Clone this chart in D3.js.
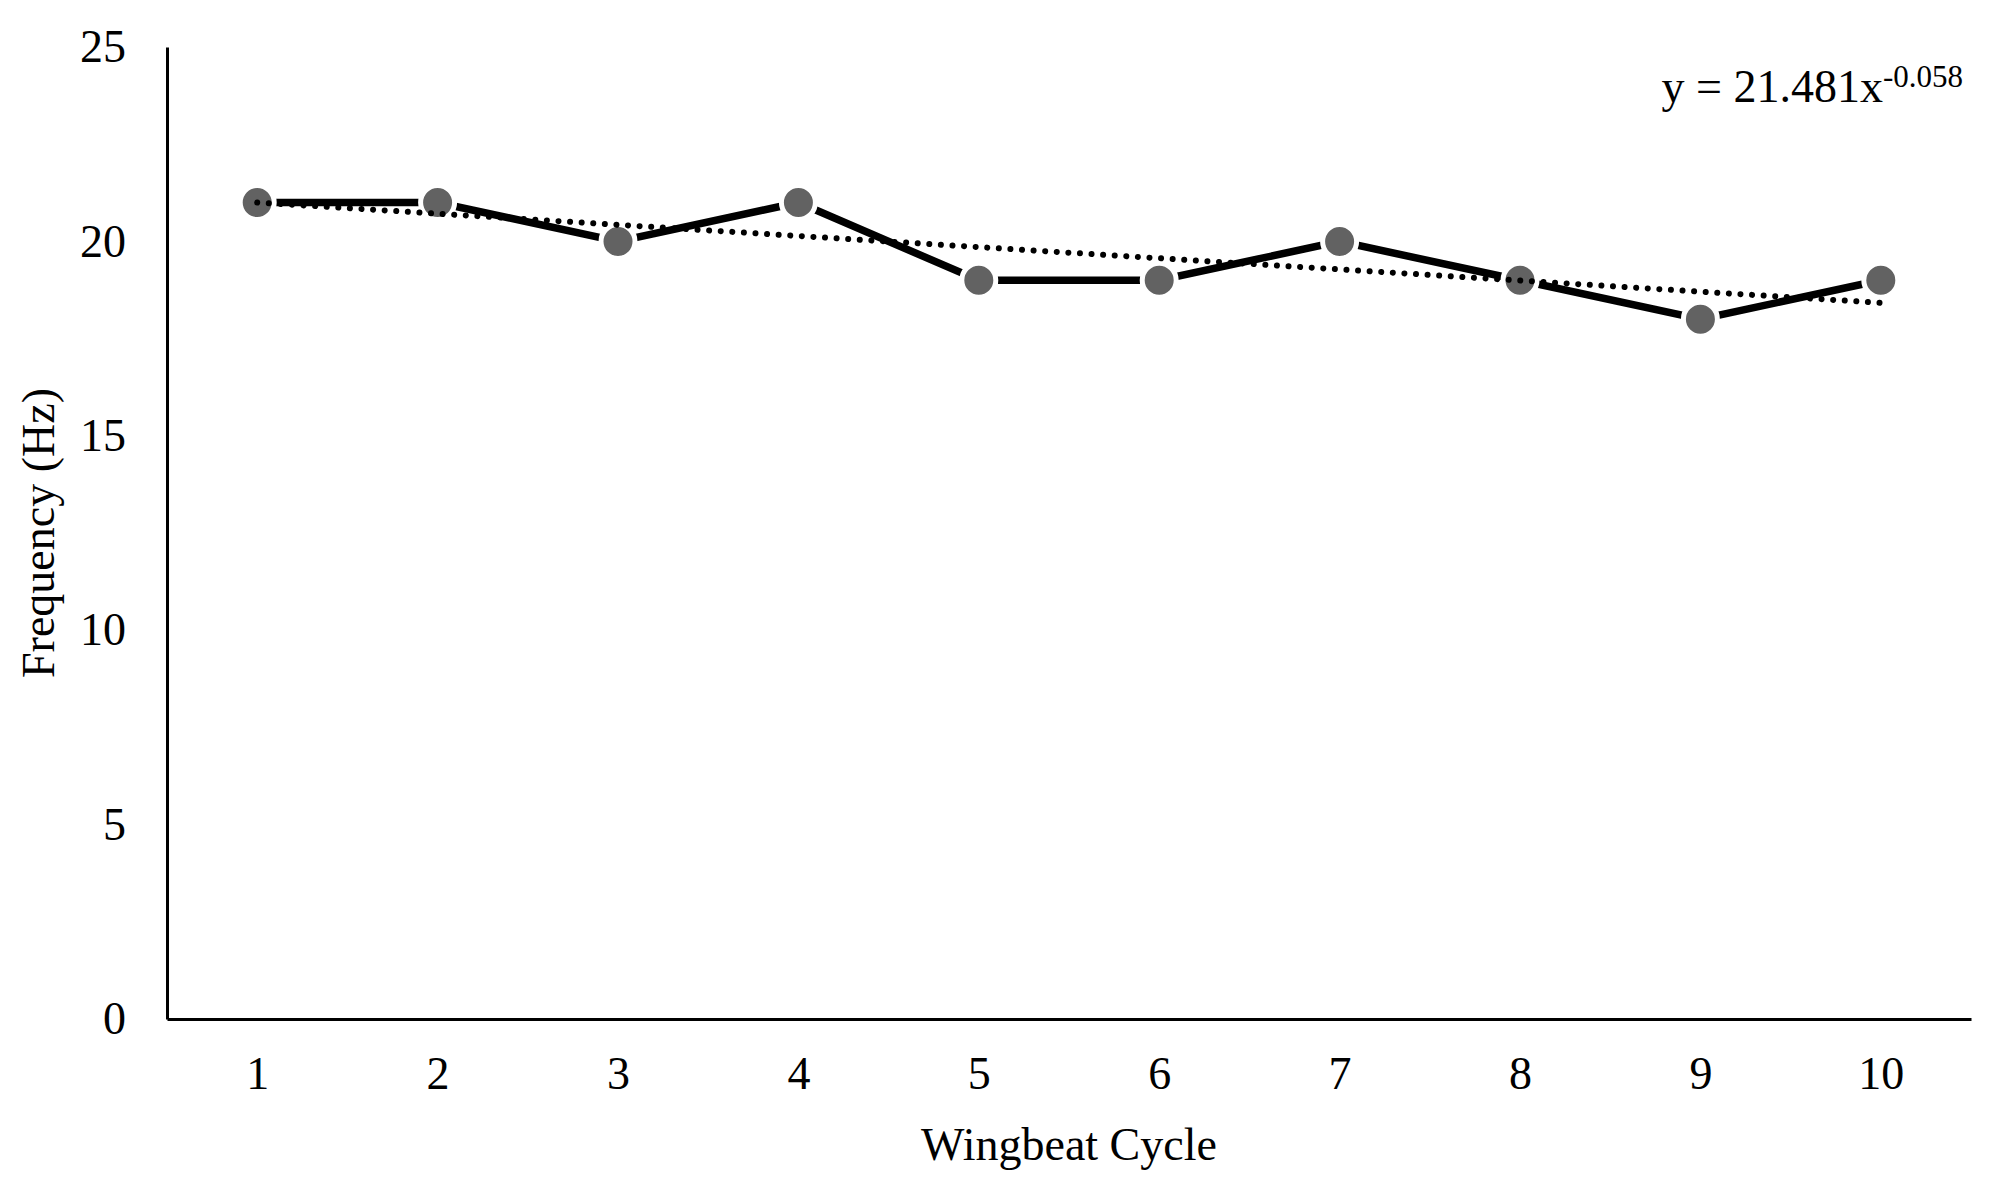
<!DOCTYPE html>
<html>
<head>
<meta charset="utf-8">
<script src="https://cdn.jsdelivr.net/npm/d3@7"></script>
<style>
  body { margin: 0; background: #fff; }
  text { font-family: "Liberation Serif", "Times New Roman", serif; fill: #000; }
</style>
</head>
<body>
<div id="chart"></div>
<script>
// Données
const cycles = [1, 2, 3, 4, 5, 6, 7, 8, 9, 10];
const frequency = [21, 21, 20, 21, 19, 19, 20, 19, 18, 19];
const yTicks = [0, 5, 10, 15, 20, 25];
// Courbe de tendance (extrémités)
const trendX = [1, 10];
const trendY = [21.0, 18.42];
const equationText = "y = 21.481x";
const equationExp = "-0.058";

const width = 1993;
const height = 1192;
const margin = { top: 47, right: 22, bottom: 173, left: 167 };

const svg = d3.select("#chart")
  .append("svg")
  .attr("width", width)
  .attr("height", height);

// Échelles
const x = d3.scaleLinear()
  .domain([0.5, 10.5])
  .range([margin.left, width - margin.right]);

const y = d3.scaleLinear()
  .domain([0, 25])
  .range([height - margin.bottom, margin.top]);

// Axes
const xAxis = svg.append("g")
  .attr("transform", `translate(0,${height - margin.bottom})`)
  .call(d3.axisBottom(x).tickValues(cycles).tickFormat(d3.format("d"))
    .tickSize(0).tickSizeOuter(0).tickPadding(37));

const yAxis = svg.append("g")
  .attr("transform", `translate(${margin.left},0)`)
  .call(d3.axisLeft(y).tickValues(yTicks).tickSize(0).tickSizeOuter(0).tickPadding(41));

[xAxis, yAxis].forEach((ax) => {
  ax.select(".domain").attr("stroke", "#000").attr("stroke-width", 3);
  ax.selectAll("text")
    .style("font-family", '"Liberation Serif", "Times New Roman", serif')
    .style("font-size", "46px")
    .attr("fill", "#000");
});

// Série principale
const line = d3.line()
  .x((d, i) => x(cycles[i]))
  .y((d) => y(d));

svg.append("path")
  .datum(frequency)
  .attr("fill", "none")
  .attr("stroke", "#000")
  .attr("stroke-width", 7.5)
  .attr("d", line);

// Marqueurs avec bord blanc
svg.selectAll(".marker")
  .data(frequency)
  .enter()
  .append("circle")
  .attr("class", "marker")
  .attr("cx", (d, i) => x(cycles[i]))
  .attr("cy", (d) => y(d))
  .attr("r", 17)
  .attr("fill", "#626262")
  .attr("stroke", "#fff")
  .attr("stroke-width", 5);

// Tendance en pointillés
svg.append("path")
  .datum(trendY)
  .attr("fill", "none")
  .attr("stroke", "#000")
  .attr("stroke-width", 6)
  .attr("stroke-linecap", "round")
  .attr("stroke-dasharray", "0.01 11.6")
  .attr("d", d3.line().x((d, i) => x(trendX[i])).y((d) => y(d)));

// Équation
const eq = svg.append("text")
  .attr("x", 1963)
  .attr("y", 102)
  .attr("text-anchor", "end")
  .style("font-size", "46px");
eq.append("tspan").text(equationText);
eq.append("tspan").attr("dy", -15).style("font-size", "31px").text(equationExp);

// Titres des axes
svg.append("text")
  .attr("x", (margin.left + width - margin.right) / 2)
  .attr("y", 1160)
  .attr("text-anchor", "middle")
  .style("font-size", "46px")
  .text("Wingbeat Cycle");

svg.append("text")
  .attr("transform", `translate(54,${(margin.top + height - margin.bottom) / 2}) rotate(-90)`)
  .attr("text-anchor", "middle")
  .style("font-size", "46px")
  .text("Frequency (Hz)");
</script>
</body>
</html>
